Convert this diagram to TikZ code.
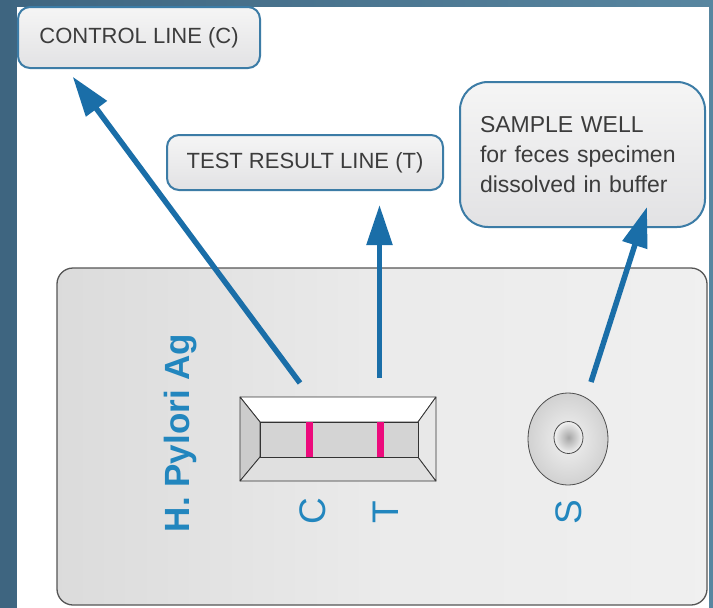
\documentclass[tikz,border=0pt]{standalone}
\usepackage{fontspec}
\setmainfont{Liberation Sans}
\usetikzlibrary{arrows.meta}

\definecolor{frameA}{RGB}{62,101,128}
\definecolor{frameB}{RGB}{88,134,160}
\definecolor{calloutblue}{RGB}{60,124,166}
\definecolor{boxtop}{RGB}{245,245,245}
\definecolor{boxbottom}{RGB}{226,226,228}
\definecolor{labelgray}{RGB}{60,60,60}
\definecolor{arrowblue}{RGB}{26,110,168}
\definecolor{printblue}{RGB}{34,134,190}
\definecolor{cardedge}{RGB}{85,85,85}
\definecolor{lineink}{RGB}{236,10,124}

\begin{document}
\begin{tikzpicture}[x=1pt,y=-1pt,
  callout/.style={draw=calloutblue, line width=2pt, rounded corners=12pt,
    top color=boxtop, bottom color=boxbottom, text=labelgray,
    font=\fontsize{22}{26}\selectfont, inner sep=0pt},
  pointer/.style={draw=arrowblue, line width=5.5pt,
    -{Triangle[length=40pt,width=25pt]}},
  bevel/.style={draw=black!80, line width=0.8pt, line join=round},
  casemark/.style={text=printblue, font=\fontsize{37}{40}\selectfont,
    rotate=90, inner sep=0pt},
  resultline/.style={draw=lineink, line width=6.5pt}
]
\useasboundingbox (0,0) rectangle (713,608);

% frame and page
\fill[left color=frameA, right color=frameB] (0,0) rectangle (713,608);
\fill[white] (17,7) rectangle (709,608);

% test cassette
\draw[draw=cardedge, line width=1.3pt, rounded corners=16pt,
  left color=black!14, right color=black!6, middle color=black!8]
  (57,268) rectangle (707,605);

% result window with bevelled frame
\filldraw[bevel, fill=white] (240,397) -- (436,397) -- (418,422) -- (260,422) -- cycle;
\filldraw[bevel, fill=black!20] (240,397) -- (260,422) -- (260,457) -- (240,481) -- cycle;
\filldraw[bevel, fill=black!12] (240,481) -- (260,457) -- (418,457) -- (436,481) -- cycle;
\filldraw[bevel, fill=black!9] (436,397) -- (418,422) -- (418,457) -- (436,481) -- cycle;
\filldraw[bevel, fill=black!17] (260,422) rectangle (418,457);
\draw[resultline] (309.5,422) -- (309.5,457);
\draw[resultline] (380.5,422) -- (380.5,457);

% sample well
\draw[draw=black!70, line width=0.8pt, inner color=black!5, outer color=black!18]
  (568,439) ellipse [x radius=40, y radius=46];
\draw[draw=black!70, line width=0.8pt, inner color=black!35, outer color=black!5]
  (568.5,437.5) ellipse [x radius=14.5, y radius=16];

% printed markings
\node[text=printblue, font=\bfseries\fontsize{35}{38}\selectfont, rotate=90,
  inner sep=0pt] (brand) at (181,433) {H. Pylori Ag};
\node[casemark] (markC) at (313,511) {C};
\node[casemark] (markT) at (386,512) {T};
\node[casemark] (markS) at (569,512) {S};

% callouts
\node[callout, minimum width=242pt, minimum height=61pt] (ctl) at (139,37.5)
  {CONTROL LINE (C)};
\node[callout, minimum width=276pt, minimum height=55pt] (tst) at (305,162.5)
  {TEST RESULT LINE (T)};
\node[callout, rounded corners=28pt, minimum height=145pt, text width=205pt,
  inner xsep=20pt, align=left, font=\fontsize{23}{30}\selectfont] (smp) at (582.5,154.5)
  {SAMPLE WELL\\for feces specimen\\dissolved in buffer};

% pointer ends
\coordinate (ctlTail) at (300,383);
\coordinate (ctlTip) at (72.7,76.7);
\coordinate (tstTail) at (379.5,378);
\coordinate (tstTip) at (379.5,205);
\coordinate (smpTail) at (591,382);
\coordinate (smpTip) at (647,207);

\draw[pointer] (ctlTail) -- (ctlTip);
\draw[pointer] (tstTail) -- (tstTip);
\draw[pointer] (smpTail) -- (smpTip);
\end{tikzpicture}
\end{document}
